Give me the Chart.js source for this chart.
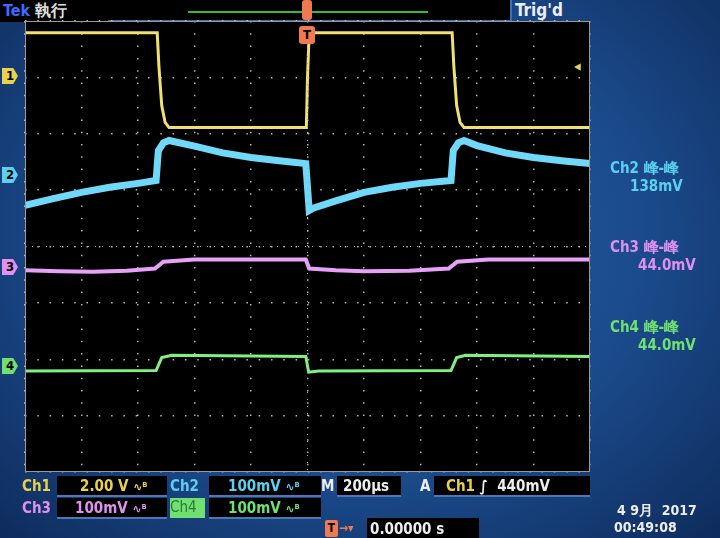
<!DOCTYPE html>
<html><head><meta charset="utf-8">
<script src="https://cdn.jsdelivr.net/npm/chart.js@4"></script>
<style>
body{margin:0;width:720px;height:538px;overflow:hidden;background:radial-gradient(ellipse at 50% 45%,#2460a8 0%,#1b4b8c 55%,#0e2c5c 100%);font-family:"DejaVu Sans Condensed","DejaVu Sans",sans-serif;font-weight:bold;}
#wrap{position:absolute;left:0;top:0;width:720px;height:538px}
.t{position:absolute;white-space:nowrap;font-size:15px;line-height:18px}
.box{position:absolute;background:#000;height:19px;border-bottom:2px solid #4a78b8}
.mk{position:absolute;width:16px;height:16px;font-size:13px;line-height:16px;text-align:center;color:#000;clip-path:polygon(0 0,70% 0,100% 50%,70% 100%,0 100%)}
</style></head><body>
<div class="box" style="left:0;top:0;width:108px;height:22px;background:#000;border:none"></div>
<div class="t" style="left:3px;top:2px;color:#3a6cff;font-size:16px">Tek <span style="color:#ddd">執行</span></div>
<div class="box" style="left:108px;top:0;width:402px;height:20px;border:none;border-bottom:2px solid #3a70b8"></div>
<div style="position:absolute;left:188px;top:11px;width:240px;height:2px;background:#2ec030"></div>
<div class="box" style="left:510px;top:0;width:210px;height:22px;background:transparent;border:none;border-left:2px solid #3a70b8"></div>
<div class="t" style="left:515px;top:1px;color:#eee;font-size:17px">Trig'd</div>
<div id="wrap"><canvas id="c" width="720" height="538"></canvas></div>
<div class="mk" style="left:2px;top:68px;background:#e8d24a">1</div>
<div class="mk" style="left:2px;top:167px;background:#5cd0f0">2</div>
<div class="mk" style="left:2px;top:259px;background:#e090f0">3</div>
<div class="mk" style="left:2px;top:358px;background:#70e070">4</div>
<div style="position:absolute;left:299px;top:26px;width:16px;height:18px;background:#f07a50;border-radius:3px;color:#000;font-size:13px;text-align:center;line-height:18px">T</div>
<div style="position:absolute;left:302px;top:0;width:10px;height:20px;background:#f07a50;border-radius:3px"></div>
<div class="t" style="left:574px;top:57px;color:#e8d24a">◂</div>
<div class="t" style="left:610px;top:159px;color:#5cd0f0">Ch2 峰-峰</div>
<div class="t" style="left:630px;top:177px;color:#5cd0f0">138mV</div>
<div class="t" style="left:610px;top:238px;color:#e090f0">Ch3 峰-峰</div>
<div class="t" style="left:638px;top:256px;color:#e090f0">44.0mV</div>
<div class="t" style="left:610px;top:318px;color:#70e070">Ch4 峰-峰</div>
<div class="t" style="left:638px;top:336px;color:#70e070">44.0mV</div>
<div class="t" style="left:22px;top:477px;color:#e8d24a">Ch1</div>
<div class="box" style="left:57px;top:476px;width:110px"></div>
<div class="t" style="left:80px;top:477px;color:#e8d24a">2.00 V <span style="font-size:12px">∿ᴮ</span></div>
<div class="t" style="left:170px;top:477px;color:#5cd0f0">Ch2</div>
<div class="box" style="left:209px;top:476px;width:112px"></div>
<div class="t" style="left:228px;top:477px;color:#5cd0f0">100mV <span style="font-size:12px">∿ᴮ</span></div>
<div class="t" style="left:321px;top:477px;color:#eee">M</div>
<div class="box" style="left:337px;top:476px;width:64px"></div>
<div class="t" style="left:343px;top:477px;color:#eee">200µs</div>
<div class="t" style="left:420px;top:477px;color:#eee">A</div>
<div class="box" style="left:434px;top:476px;width:156px"></div>
<div class="t" style="left:446px;top:477px;color:#e8d24a">Ch1 <span style="color:#eee">&#x222B;</span> &nbsp;<span style="color:#eee">440mV</span></div>
<div class="t" style="left:22px;top:499px;color:#e090f0">Ch3</div>
<div class="box" style="left:57px;top:498px;width:110px"></div>
<div class="t" style="left:75px;top:499px;color:#e090f0">100mV <span style="font-size:12px">∿ᴮ</span></div>
<div class="t" style="left:170px;top:498px;width:35px;height:20px;background:#70e070;color:#2a7a3a;font-weight:normal">Ch4</div>
<div class="box" style="left:209px;top:498px;width:112px"></div>
<div class="t" style="left:228px;top:499px;color:#70e070">100mV <span style="font-size:12px">∿ᴮ</span></div>
<div style="position:absolute;left:325px;top:520px;width:13px;height:17px;background:#f07a50;border-radius:2px;color:#000;font-size:12px;text-align:center;line-height:17px">T</div>
<div class="t" style="left:339px;top:519px;color:#f07a50;font-size:12px">→▾</div>
<div class="box" style="left:367px;top:518px;width:112px;height:20px;border:none"></div>
<div class="t" style="left:370px;top:520px;color:#eee">0.00000 s</div>
<div class="t" style="left:617px;top:501px;color:#eee;font-size:14px">4 9月 &nbsp;2017</div>
<div class="t" style="left:614px;top:518px;color:#eee;font-size:14px">00:49:08</div>
<script>
const ch1X=[0,2.34,2.37,2.42,2.48,2.55,4.98,5.0,5.03,7.56,7.59,7.64,7.70,7.77,10];
const ch1Y=[7.79,7.79,7.2,6.5,6.2,6.11,6.11,7.0,7.79,7.79,7.2,6.5,6.2,6.11,6.11];
const ch2X=[0,0.5,1,1.5,2,2.32,2.36,2.45,2.55,3,3.5,4,4.5,4.97,5.03,5.1,5.5,6,6.5,7,7.54,7.58,7.67,7.77,8,8.5,9,9.5,10];
const ch2Y=[4.73,4.85,4.96,5.05,5.12,5.17,5.70,5.84,5.88,5.78,5.66,5.58,5.52,5.47,4.64,4.68,4.81,4.96,5.05,5.12,5.17,5.70,5.84,5.88,5.79,5.66,5.58,5.52,5.47];
const ch3X=[0,0.6,1.2,1.8,2.3,2.45,3,4.97,5.03,5.5,6,6.8,7.5,7.65,8.2,10];
const ch3Y=[3.58,3.56,3.55,3.57,3.61,3.73,3.77,3.77,3.61,3.58,3.56,3.57,3.61,3.73,3.77,3.77];
const ch4X=[0,2.32,2.42,2.6,4.97,5.02,5.2,7.54,7.64,7.8,10];
const ch4Y=[1.79,1.80,2.03,2.07,2.05,1.77,1.79,1.80,2.03,2.07,2.05];
const pts=(xs,ys)=>xs.map((x,i)=>({x,y:ys[i]}));
const ds=(xs,ys,c,w)=>({data:pts(xs,ys),borderColor:c,borderWidth:w,pointRadius:0,tension:0,fill:false});
const bgPlug={id:'bg',beforeDraw(ch){const a=ch.chartArea,x=ch.ctx;x.save();x.fillStyle='#000';x.fillRect(a.left,a.top,a.right-a.left,a.bottom-a.top);x.restore();},
afterDatasetsDraw(ch){const a=ch.chartArea,x=ch.ctx;x.save();x.strokeStyle='#aaa';x.lineWidth=1;const cx=(a.left+a.right)/2,cy=(a.top+a.bottom)/2;
x.setLineDash([1,6]);x.beginPath();x.moveTo(cx,a.top);x.lineTo(cx,a.bottom);x.moveTo(a.left,cy);x.lineTo(a.right,cy);x.stroke();
x.setLineDash([]);x.strokeStyle='#999';x.strokeRect(a.left+0.5,a.top+0.5,a.right-a.left-1,a.bottom-a.top-1);
x.restore();}};
new Chart(document.getElementById('c'),{type:'line',
data:{datasets:[ds(ch1X,ch1Y,'#f0e070',3),ds(ch2X,ch2Y,'#70d8f8',7),ds(ch3X,ch3Y,'#e8a0f8',4),ds(ch4X,ch4Y,'#80f080',3)]},
options:{responsive:false,animation:false,layout:{padding:{left:25,top:21,right:130,bottom:66}},
plugins:{legend:{display:false},tooltip:{enabled:false}},
scales:{x:{type:'linear',min:0,max:10,ticks:{display:false,stepSize:1},grid:{color:'rgba(200,200,200,0.9)',lineWidth:1.5,drawTicks:false},border:{display:false,dash:[1.5,10.8]}},
y:{min:0,max:8,ticks:{display:false,stepSize:1},grid:{color:'rgba(200,200,200,0.9)',lineWidth:1.5,drawTicks:false},border:{display:false,dash:[1.5,10.8]}}}},
plugins:[bgPlug]});
</script>
</body></html>
